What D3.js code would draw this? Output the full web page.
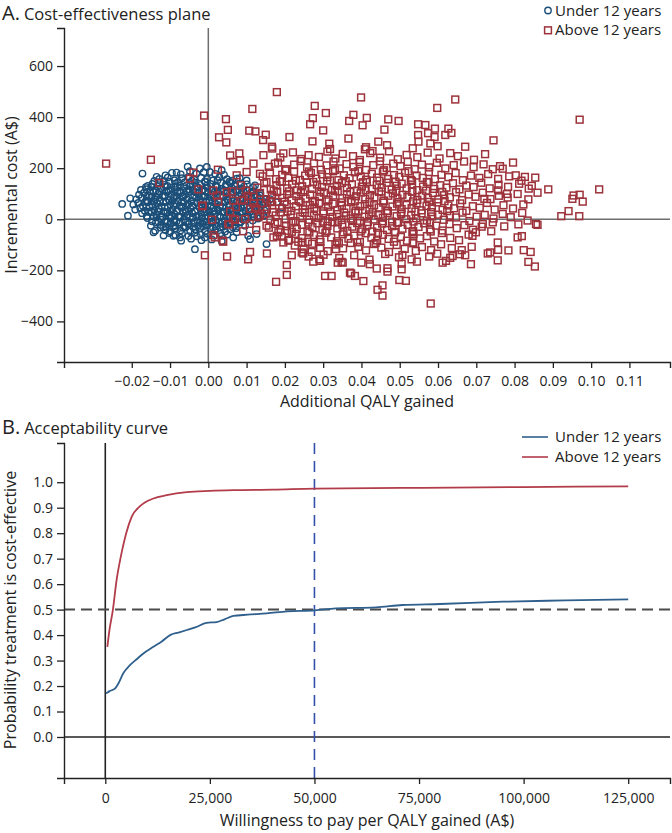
<!DOCTYPE html>
<html>
<head>
<meta charset="utf-8">
<script src="https://cdn.jsdelivr.net/npm/d3@7"></script>
<style>
  html, body { margin: 0; padding: 0; background: #fff; }
  svg { display: block; font-family: "Open Sans", "Noto Sans", sans-serif; }
</style>
</head>
<body>
<script>
// ---------------- DATA ----------------
const seriesNames = ["Under 12 years", "Above 12 years"];

const xTicksA = [-0.02,-0.01,0,0.01,0.02,0.03,0.04,0.05,0.06,0.07,0.08,0.09,0.10,0.11];
const yTicksA = [-400,-200,0,200,400,600];
const xTicksB = [0,25000,50000,75000,100000,125000];
const yTicksB = [0,0.1,0.2,0.3,0.4,0.5,0.6,0.7,0.8,0.9,1.0];

// [additional QALY, incremental cost A$]
const under12Points = [
[-0.0095,182],[-0.0072,176],[-0.0048,188],[-0.0031,179],[-0.0012,184],[0.0018,178],[0.0041,174],[-0.0112,172],
[-0.0128,158],[-0.0106,164],[-0.0088,153],[-0.0069,161],[-0.0052,166],[-0.0037,156],[-0.0019,163],[-0.0003,158],[0.0012,152],[0.0029,165],[0.0049,157],[0.0063,151],[-0.0141,150],[0.0082,161],
[-0.0146,138],[-0.0129,144],[-0.0114,135],[-0.0101,147],[-0.0086,139],[-0.0074,132],[-0.0061,145],[-0.0047,137],[-0.0035,143],[-0.0021,134],[-0.0008,146],[0.0006,138],[0.0019,131],[0.0033,144],[0.0046,136],[0.0058,142],[0.0071,133],[0.0086,140],[0.0101,137],[-0.0158,131],
[-0.0162,118],[-0.0149,126],[-0.0137,113],[-0.0124,122],[-0.0111,128],[-0.0099,115],[-0.0087,124],[-0.0076,111],[-0.0063,127],[-0.0051,118],[-0.0039,112],[-0.0027,125],[-0.0014,117],[-0.0002,123],[0.0011,114],[0.0023,126],[0.0036,119],[0.0048,111],[0.0061,124],[0.0074,116],[0.0088,121],[0.0102,113],[0.0117,125],[-0.0176,115],
[-0.0181,96],[-0.0168,104],[-0.0155,92],[-0.0143,107],[-0.0131,99],[-0.0119,93],[-0.0108,106],[-0.0096,98],[-0.0084,91],[-0.0072,103],[-0.0061,96],[-0.0049,108],[-0.0037,94],[-0.0025,101],[-0.0013,91],[-0.0001,105],[0.0012,97],[0.0024,109],[0.0036,93],[0.0049,102],[0.0061,95],[0.0073,107],[0.0086,99],[0.0098,92],[0.0111,104],[0.0123,96],[0.0136,101],
[-0.0188,78],[-0.0174,84],[-0.0161,73],[-0.0149,86],[-0.0138,79],[-0.0126,71],[-0.0114,88],[-0.0103,76],[-0.0091,83],[-0.0079,72],[-0.0068,87],[-0.0056,78],[-0.0044,71],[-0.0032,85],[-0.0021,77],[-0.0009,89],[0.0003,74],[0.0015,82],[0.0027,71],[0.0039,86],[0.0051,78],[0.0063,84],[0.0075,72],[0.0087,81],[0.0099,76],[0.0112,87],[0.0124,73],[0.0137,82],[0.0149,77],
[-0.0183,64],[-0.0171,52],[-0.0158,67],[-0.0146,56],[-0.0134,63],[-0.0122,51],[-0.0111,68],[-0.0099,57],[-0.0087,62],[-0.0075,53],[-0.0064,66],[-0.0052,59],[-0.0041,51],[-0.0029,64],[-0.0017,57],[-0.0005,68],[0.0007,53],[0.0019,61],[0.0031,55],[0.0043,67],[0.0056,58],[0.0068,51],[0.0080,63],[0.0092,56],[0.0105,68],[0.0117,54],[0.0129,61],[0.0142,57],[0.0155,64],
[-0.0178,44],[-0.0166,33],[-0.0153,47],[-0.0141,36],[-0.0129,42],[-0.0117,31],[-0.0106,46],[-0.0094,38],[-0.0082,33],[-0.0070,45],[-0.0059,36],[-0.0047,43],[-0.0035,32],[-0.0023,47],[-0.0011,39],[0.0001,34],[0.0013,44],[0.0025,37],[0.0037,48],[0.0049,33],[0.0061,41],[0.0073,36],[0.0085,45],[0.0097,32],[0.0109,42],[0.0121,37],[0.0134,46],[0.0147,34],
[-0.0173,24],[-0.0161,13],[-0.0148,27],[-0.0136,19],[-0.0124,11],[-0.0112,25],[-0.0101,16],[-0.0089,22],[-0.0077,12],[-0.0066,27],[-0.0054,18],[-0.0042,24],[-0.0030,13],[-0.0018,21],[-0.0006,28],[0.0006,15],[0.0018,23],[0.0030,12],[0.0042,26],[0.0054,17],[0.0066,22],[0.0078,11],[0.0090,25],[0.0103,16],[0.0115,21],[0.0128,13],[0.0141,24],
[-0.0159,5],[-0.0147,-8],[-0.0135,7],[-0.0123,-2],[-0.0111,-9],[-0.0099,4],[-0.0088,-5],[-0.0076,8],[-0.0064,-1],[-0.0053,-8],[-0.0041,6],[-0.0029,-4],[-0.0017,3],[-0.0005,-9],[0.0007,5],[0.0019,-3],[0.0031,8],[0.0043,-6],[0.0055,2],[0.0067,-8],[0.0079,5],[0.0091,-2],[0.0104,7],[0.0116,-5],[0.0130,3],
[-0.0150,-25],[-0.0137,-13],[-0.0124,-22],[-0.0112,-28],[-0.0099,-16],[-0.0087,-24],[-0.0075,-12],[-0.0063,-27],[-0.0051,-19],[-0.0039,-14],[-0.0027,-26],[-0.0015,-17],[-0.0003,-23],[0.0009,-12],[0.0021,-27],[0.0033,-18],[0.0045,-24],[0.0057,-15],[0.0069,-22],[0.0082,-13],[0.0096,-25],
[-0.0139,-45],[-0.0125,-33],[-0.0112,-42],[-0.0099,-48],[-0.0086,-36],[-0.0073,-44],[-0.0060,-32],[-0.0047,-47],[-0.0034,-39],[-0.0021,-34],[-0.0008,-46],[0.0005,-37],[0.0018,-43],[0.0031,-33],[0.0044,-48],[0.0057,-39],[0.0072,-35],
[-0.0117,-64],[-0.0102,-54],[-0.0086,-62],[-0.0069,-56],[-0.0052,-66],[-0.0036,-53],[-0.0019,-61],[-0.0002,-57],[0.0015,-64],[0.0032,-55],[0.0050,-60],
[-0.0071,-84],[-0.0045,-76],[-0.0018,-82],[0.0009,-79],[0.0035,-86],
[-0.0117,149],[-0.0079,146],[-0.0043,151],[-0.0009,148],[0.0024,153],[0.0055,147],
[-0.0133,129],[-0.0107,131],[-0.0081,127],[-0.0057,133],[-0.0031,128],[-0.0004,132],[0.0021,129],[0.0045,127],[0.0068,131],[0.0093,128],
[-0.0152,110],[-0.0128,108],[-0.0104,112],[-0.0081,107],[-0.0057,110],[-0.0033,106],[-0.0008,111],[0.0017,108],[0.0041,113],[0.0066,106],[0.0092,110],[0.0115,108],
[-0.0161,89],[-0.0137,87],[-0.0113,92],[-0.0089,88],[-0.0065,91],[-0.0041,86],[-0.0017,90],[0.0007,87],[0.0031,92],[0.0055,88],[0.0079,91],[0.0104,86],[0.0128,89],
[-0.0165,69],[-0.0141,71],[-0.0117,67],[-0.0093,72],[-0.0069,68],[-0.0045,70],[-0.0021,66],[0.0003,71],[0.0027,68],[0.0051,72],[0.0075,67],[0.0099,70],[0.0123,68],
[-0.0162,49],[-0.0138,51],[-0.0114,48],[-0.0090,52],[-0.0066,49],[-0.0042,53],[-0.0018,48],[0.0006,51],[0.0030,47],[0.0054,52],[0.0078,49],[0.0102,51],[0.0126,48],
[-0.0155,29],[-0.0131,31],[-0.0107,28],[-0.0083,32],[-0.0059,29],[-0.0035,31],[-0.0011,27],[0.0013,32],[0.0037,29],[0.0061,31],[0.0085,28],[0.0109,30],
[-0.0144,11],[-0.0120,9],[-0.0096,12],[-0.0072,10],[-0.0048,8],[-0.0024,12],[0.0000,9],[0.0024,11],[0.0048,8],[0.0072,12],[0.0096,10],[0.0120,9],
[-0.0131,-9],[-0.0107,-12],[-0.0083,-8],[-0.0059,-11],[-0.0035,-13],[-0.0011,-9],[0.0013,-12],[0.0037,-8],[0.0061,-11],[0.0085,-10],
[-0.0118,-31],[-0.0092,-29],[-0.0066,-33],[-0.0040,-30],[-0.0014,-28],[0.0012,-32],[0.0038,-29],[0.0064,-31],
[-0.0225,60],[-0.0204,82],[-0.0210,14],[-0.0196,58],[-0.0191,38],[-0.0172,179],[-0.0163,126],[-0.0143,-51],[-0.0091,-65],[-0.0074,-71],[-0.0035,-117],[-0.0030,-67],[-0.0009,-71],[0.0035,-65],[0.0065,-71],[0.0074,-51],[0.0104,-65],[0.0109,-78],[0.0126,-58],[0.0152,-97],
[-0.0135,166],[-0.0083,183],[-0.0054,206],[-0.0022,199],[-0.0004,205],[0.0035,192],[0.0004,185],[0.0074,159],[0.0100,152],[0.0122,133],[0.0135,93],[0.0148,67],[0.0161,79],[0.0179,67],[0.0192,47],[0.0144,14]
];

const above12Points = [
[-0.0267,218],[-0.0150,233],[-0.0011,406],[0.0046,392],[0.0051,350],[0.0028,321],[0.0047,301],[0.0115,432],[0.0107,347],[0.0123,344],[0.0150,331],[0.0143,310],[0.0179,498],[0.0166,284],[0.0212,322],[0.0278,444],[0.0273,396],[0.0266,372],[0.0307,416],[0.0300,348],[0.0272,305],[0.0316,296],[0.0057,250],[0.0081,258],[0.0064,225],[0.0083,231],
[0.0399,477],[0.0645,469],[0.0598,436],[0.0379,409],[0.0368,385],[0.0414,397],[0.0403,368],[0.0470,391],[0.0497,385],[0.0460,351],[0.0366,316],[0.0548,372],[0.0567,369],[0.0592,355],[0.0627,355],[0.0548,330],[0.0574,337],[0.0591,322],[0.0619,330],[0.0635,338],[0.0549,304],[0.0580,297],[0.0599,286],[0.0671,284],[0.0632,259],[0.0745,309],[0.0970,390],[0.0444,304],[0.0467,290],[0.0412,282],[0.0429,267],[0.0743,196],[0.0769,198],[0.0803,172],[0.0827,166],[0.0854,163],[0.0837,120],[0.0860,104],[0.0888,117],[0.0954,93],[0.0970,96],[0.1021,117],[0.0721,80],[0.0757,113],[0.0780,99],
[0.0951,80],[0.0978,69],[0.0922,12],[0.0941,32],[0.0969,12],[0.0856,-19],[0.0860,-22],[0.0834,-5],[0.0810,-20],[0.0773,-28],[0.0808,-71],[0.0819,-66],[0.0784,-122],[0.0824,-121],[0.0842,-128],[0.0836,-167],[0.0853,-185],[0.0756,-91],[0.0757,-120],[0.0756,-161],[0.0730,-134],[0.0736,-130],[0.0688,-108],[0.0686,-176],[0.0581,-330],[0.0455,-259],[0.0442,-276],[0.0455,-299],[0.0499,-238],[0.0516,-241],[0.0405,-242],[0.0383,-222],[0.0373,-212],[0.0468,-192],[0.0468,-205],[0.0505,-196],[0.0505,-174],[0.0545,-166],[0.0542,-124],[0.0577,-146],[0.0612,-170],[0.0621,-163],[0.0638,-144],[0.0662,-121],[0.0671,-141],[0.0351,-170],[0.0338,-170],[0.0333,-117],[0.0690,-65],[0.0699,-51],[0.0717,-19],[0.0743,-12],[0.0769,21],
[-0.0009,-141],[0.0049,-146],[0.0104,-157],[0.0109,-128],[0.0153,-134],[0.0177,-245],[0.0205,-218],[0.0205,-179],[0.0218,-141],[0.0235,-88],[0.0248,-134],[0.0270,-128],[0.0274,-166],[0.0290,-157],[0.0305,-222],[0.0322,-222],[-0.0015,54],[0.0010,-2],[0.0026,69],[0.0052,-19],[0.0065,1],[0.0096,1],[0.0091,-47],[0.0109,41],[0.0087,73],[0.0013,-62],[0.0038,-84],[0.0183,-51],[0.0205,-45],[0.0209,-84],[0.0170,-71],
[-0.0128,142],[-0.0026,117],[-0.0016,51],[0.0017,-71],[0.0039,-88],[-0.0048,159],[-0.0039,183],[0.0025,194],[0.0013,113],[0.0022,93],[0.0048,106],[0.0061,109],[0.0065,73],[0.0093,77],[0.0057,30],[0.0070,-2],[0.0055,-20],
[0.0074,172],[0.0100,185],[0.0118,218],[0.0144,251],[0.0167,277],[0.0196,258],[0.0174,218],[0.0135,178],[0.0152,146],[0.0179,106],[0.0165,67],[0.0126,41],[0.0135,14],[0.0152,-25],[0.0179,-65],[0.0196,-91],
[0.0370,-209],[0.0422,-176],[0.0440,-193],[0.0348,-167],[0.0400,-170],[0.0507,-140],[0.0657,-137],[0.0292,-163],[0.0244,-130],
[0.0188,242],[0.0221,262],[0.0243,236],[0.0262,251],[0.0289,244],[0.0311,265],[0.0332,238],[0.0351,256],[0.0378,247],[0.0396,232],[0.0423,259],[0.0449,241],[0.0472,266],[0.0495,235],[0.0518,252],[0.0546,243],[0.0573,261],[0.0604,238],[0.0652,247],[0.0694,233],[0.0723,255],[0.0318,275],[0.0409,274],[0.0534,278],
[0.0158,205],[0.0182,222],[0.0203,196],[0.0224,214],[0.0241,228],[0.0258,203],[0.0276,219],[0.0294,194],[0.0309,211],[0.0327,226],[0.0343,199],[0.0361,216],[0.0379,205],[0.0395,224],[0.0412,193],[0.0431,212],[0.0448,227],[0.0466,201],[0.0483,218],[0.0502,208],[0.0521,225],[0.0539,196],[0.0558,214],[0.0577,203],[0.0597,221],[0.0619,199],[0.0641,212],[0.0668,226],[0.0693,204],[0.0719,215],[0.0762,208],[0.0796,222],
[0.0142,168],[0.0161,183],[0.0177,157],[0.0193,174],[0.0209,162],[0.0224,186],[0.0239,154],[0.0253,171],[0.0268,181],[0.0282,159],[0.0297,176],[0.0311,165],[0.0326,188],[0.0340,153],[0.0354,172],[0.0369,161],[0.0383,184],[0.0398,167],[0.0412,155],[0.0427,178],[0.0441,163],[0.0456,187],[0.0470,158],[0.0485,173],[0.0499,166],[0.0514,182],[0.0529,154],[0.0544,171],[0.0560,162],[0.0576,185],[0.0592,157],[0.0609,174],[0.0627,165],[0.0646,181],[0.0665,153],[0.0686,171],[0.0708,162],[0.0731,177],[0.0757,158],[0.0786,168],[0.0818,151],
[0.0128,124],[0.0146,141],[0.0163,117],[0.0178,133],[0.0192,147],[0.0206,121],[0.0219,138],[0.0232,113],[0.0245,129],[0.0258,144],[0.0271,119],[0.0284,136],[0.0297,126],[0.0310,148],[0.0323,115],[0.0336,131],[0.0349,142],[0.0362,122],[0.0375,137],[0.0388,112],[0.0401,128],[0.0414,146],[0.0427,119],[0.0440,134],[0.0453,124],[0.0466,143],[0.0479,116],[0.0492,131],[0.0505,139],[0.0518,121],[0.0532,136],[0.0546,114],[0.0561,128],[0.0575,145],[0.0590,119],[0.0606,133],[0.0622,124],[0.0639,141],[0.0656,117],[0.0674,132],[0.0693,126],[0.0713,143],[0.0735,121],[0.0758,135],[0.0783,127],[0.0812,139],[0.0845,131],
[0.0118,88],[0.0135,103],[0.0151,79],[0.0166,96],[0.0180,108],[0.0193,84],[0.0206,99],[0.0218,74],[0.0230,91],[0.0242,106],[0.0254,81],[0.0266,97],[0.0278,72],[0.0290,88],[0.0302,104],[0.0314,77],[0.0326,93],[0.0338,109],[0.0350,83],[0.0362,98],[0.0374,74],[0.0386,90],[0.0398,105],[0.0410,79],[0.0422,95],[0.0434,86],[0.0446,107],[0.0458,73],[0.0470,92],[0.0482,101],[0.0494,81],[0.0507,96],[0.0520,87],[0.0533,108],[0.0546,76],[0.0559,93],[0.0573,84],[0.0587,103],[0.0601,78],[0.0616,94],[0.0631,86],[0.0647,106],[0.0663,75],[0.0680,97],[0.0698,88],[0.0717,104],[0.0737,79],[0.0759,92],[0.0782,85],[0.0808,99],[0.0836,78],
[0.0122,47],[0.0138,63],[0.0153,38],[0.0167,55],[0.0180,68],[0.0193,42],[0.0205,59],[0.0217,33],[0.0229,51],[0.0241,66],[0.0253,39],[0.0265,56],[0.0277,45],[0.0289,64],[0.0301,31],[0.0313,49],[0.0325,61],[0.0337,36],[0.0349,53],[0.0361,42],[0.0373,67],[0.0385,34],[0.0397,51],[0.0409,59],[0.0421,38],[0.0433,55],[0.0445,46],[0.0457,65],[0.0469,32],[0.0481,50],[0.0493,61],[0.0505,40],[0.0518,56],[0.0531,44],[0.0544,63],[0.0557,35],[0.0570,52],[0.0584,47],[0.0598,66],[0.0612,37],[0.0627,54],[0.0642,43],[0.0658,62],[0.0674,33],[0.0691,51],[0.0709,45],[0.0728,64],[0.0748,38],[0.0771,55],[0.0796,42],[0.0823,58],
[0.0131,8],[0.0147,22],[0.0162,-4],[0.0176,15],[0.0189,27],[0.0202,2],[0.0215,18],[0.0228,-7],[0.0240,11],[0.0252,25],[0.0264,-2],[0.0276,14],[0.0288,5],[0.0300,23],[0.0312,-8],[0.0324,9],[0.0336,20],[0.0348,-3],[0.0360,13],[0.0372,3],[0.0384,26],[0.0396,-6],[0.0408,10],[0.0420,19],[0.0432,-1],[0.0444,16],[0.0456,6],[0.0468,24],[0.0480,-9],[0.0492,12],[0.0504,21],[0.0517,0],[0.0530,15],[0.0543,4],[0.0557,23],[0.0571,-5],[0.0585,11],[0.0600,18],[0.0615,-2],[0.0631,14],[0.0647,7],[0.0664,26],[0.0682,-7],[0.0701,10],[0.0722,17],[0.0745,3],[0.0790,8],[0.0820,25],
[0.0158,-33],[0.0174,-18],[0.0189,-42],[0.0203,-27],[0.0217,-13],[0.0231,-38],[0.0245,-22],[0.0259,-47],[0.0272,-31],[0.0285,-16],[0.0298,-41],[0.0311,-26],[0.0324,-12],[0.0337,-36],[0.0350,-21],[0.0363,-45],[0.0376,-29],[0.0389,-15],[0.0402,-39],[0.0415,-24],[0.0428,-48],[0.0441,-33],[0.0454,-17],[0.0467,-42],[0.0480,-27],[0.0493,-13],[0.0507,-37],[0.0521,-22],[0.0535,-46],[0.0549,-30],[0.0564,-16],[0.0579,-40],[0.0595,-25],[0.0612,-44],[0.0630,-19],[0.0649,-35],[0.0669,-23],[0.0691,-41],[0.0714,-29],[0.0739,-47],
[0.0192,-68],[0.0211,-81],[0.0228,-57],[0.0244,-74],[0.0260,-88],[0.0276,-62],[0.0291,-79],[0.0306,-53],[0.0321,-71],[0.0336,-86],[0.0351,-59],[0.0366,-76],[0.0381,-64],[0.0396,-89],[0.0411,-55],[0.0426,-72],[0.0441,-83],[0.0456,-61],[0.0471,-77],[0.0487,-52],[0.0503,-69],[0.0519,-84],[0.0536,-58],[0.0553,-75],[0.0571,-66],[0.0590,-87],[0.0610,-54],[0.0632,-73],[0.0655,-82],[0.0680,-60],
[0.0226,-103],[0.0249,-117],[0.0271,-96],[0.0292,-112],[0.0312,-125],[0.0332,-99],[0.0352,-114],[0.0372,-93],[0.0392,-108],[0.0412,-122],[0.0432,-97],[0.0452,-111],[0.0472,-128],[0.0492,-101],[0.0513,-116],[0.0535,-94],[0.0558,-109],[0.0582,-121],[0.0608,-98],[0.0636,-113],
[0.0262,-146],[0.0301,-139],[0.0342,-152],[0.0381,-141],[0.0421,-158],[0.0462,-136],[0.0498,-149],[0.0531,-157],[0.0598,-135],[0.0632,-151],
[0.0201,191],[0.0263,187],[0.0331,193],[0.0392,189],[0.0459,192],[0.0523,188],
[0.0187,148],[0.0229,151],[0.0274,146],[0.0318,152],[0.0359,149],[0.0404,145],[0.0447,151],[0.0489,147],[0.0532,150],[0.0571,146],
[0.0171,112],[0.0211,109],[0.0252,113],[0.0293,108],[0.0331,111],[0.0371,107],[0.0411,113],[0.0452,109],[0.0491,111],[0.0532,108],[0.0569,112],[0.0611,107],
[0.0162,71],[0.0199,68],[0.0237,72],[0.0273,67],[0.0309,70],[0.0347,66],[0.0383,71],[0.0421,68],[0.0459,72],[0.0497,67],[0.0535,70],[0.0577,68],[0.0617,71],
[0.0168,28],[0.0207,31],[0.0246,27],[0.0283,32],[0.0319,29],[0.0355,26],[0.0392,31],[0.0429,28],[0.0466,33],[0.0503,27],[0.0541,30],[0.0582,28],[0.0624,32],
[0.0181,-11],[0.0222,-8],[0.0261,-13],[0.0299,-9],[0.0338,-12],[0.0377,-7],[0.0417,-11],[0.0456,-8],[0.0495,-13],[0.0536,-9],[0.0579,-12],
[0.0218,-49],[0.0264,-52],[0.0309,-47],[0.0353,-51],[0.0398,-48],[0.0443,-53],[0.0488,-49],[0.0533,-51],[0.0581,-48],
[0.0246,-92],[0.0293,-89],[0.0341,-94],[0.0389,-90],[0.0437,-93],[0.0485,-88],[0.0534,-91],
[0.0098,112],[0.0085,133],[0.0104,92],[0.0072,48],[0.0118,62],[0.0108,-18],[0.0125,-42]
];

// [willingness to pay A$, probability cost-effective]
const ceacUnder12 = [[200,0.171],[1000,0.180],[2300,0.190],[3200,0.212],[4300,0.250],[5900,0.282],[7500,0.305],[9100,0.328],[11500,0.354],[13500,0.375],[15500,0.400],[17500,0.410],[19500,0.420],[21500,0.430],[24200,0.448],[26600,0.451],[28500,0.462],[30600,0.475],[34000,0.480],[38600,0.485],[43400,0.493],[50100,0.497],[55100,0.505],[64700,0.509],[71000,0.518],[80000,0.522],[95000,0.531],[110000,0.536],[125000,0.540]];
const ceacAbove12 = [[500,0.354],[1000,0.420],[1800,0.497],[2700,0.616],[3700,0.707],[5000,0.800],[6300,0.864],[8300,0.906],[11500,0.936],[14700,0.949],[19500,0.961],[25000,0.966],[30600,0.969],[40000,0.971],[50000,0.975],[75000,0.978],[100000,0.981],[125000,0.984]];

const wtpThreshold = 50000;
const probThreshold = 0.5;

// ---------------- STYLE ----------------
const blueMark = "#1b4e78", redMark = "#9d323b";
const blueLine = "#2f5f8c", redLine = "#b23c49";
const axisColor = "#222";

const svg = d3.select("body").append("svg").attr("width", 672).attr("height", 833);

function styleAxis(g) {
  g.selectAll("path.domain").attr("stroke", axisColor).attr("stroke-width", 1.4);
  g.selectAll(".tick line").attr("stroke", axisColor).attr("stroke-width", 1.3);
  g.selectAll(".tick text").attr("fill", "#222").style("font-size", "14px").style("font-family", '"Open Sans", sans-serif');
}

// ---------------- PANEL A ----------------
const xA = d3.scaleLinear().domain([-0.0377, 0.1206]).range([64, 670]);
const yA = d3.scaleLinear().domain([-559, 749]).range([362, 28]);

const gA = svg.append("g");
gA.append("line").attr("x1", xA(0)).attr("x2", xA(0)).attr("y1", yA.range()[1]).attr("y2", yA.range()[0])
  .attr("stroke", "#6f6f6f").attr("stroke-width", 1.5);
gA.append("line").attr("x1", xA.range()[0]).attr("x2", xA.range()[1]).attr("y1", yA(0)).attr("y2", yA(0))
  .attr("stroke", "#6f6f6f").attr("stroke-width", 1.5);

gA.append("g").selectAll("circle").data(under12Points).join("circle")
  .attr("cx", d => xA(d[0])).attr("cy", d => yA(d[1])).attr("r", 3.2)
  .attr("fill", "none").attr("stroke", blueMark).attr("stroke-width", 1.4);

gA.append("g").selectAll("rect").data(above12Points).join("rect")
  .attr("x", d => xA(d[0]) - 3.4).attr("y", d => yA(d[1]) - 3.4).attr("width", 6.8).attr("height", 6.8)
  .attr("fill", "none").attr("stroke", redMark).attr("stroke-width", 1.5);

const axAx = gA.append("g").attr("transform", `translate(0,362)`)
  .call(d3.axisBottom(xA).tickValues(xTicksA).tickFormat(d3.format(".2f")).tickSizeOuter(0).tickSize(6).tickPadding(8));
styleAxis(axAx);
const axAy = gA.append("g").attr("transform", `translate(64,0)`)
  .call(d3.axisLeft(yA).tickValues(yTicksA).tickFormat(d3.format("d")).tickSizeOuter(0).tickSize(7).tickPadding(4));
styleAxis(axAy);

gA.append("text").attr("x", 367).attr("y", 407).attr("text-anchor", "middle")
  .style("font-size", "16px").attr("fill", "#222").text("Additional QALY gained");
gA.append("text").attr("transform", `translate(17,195) rotate(-90)`).attr("text-anchor", "middle")
  .style("font-size", "16px").attr("fill", "#222").text("Incremental cost (A$)");

const tA = gA.append("text").attr("x", 2).attr("y", 19.5).attr("fill", "#222");
tA.append("tspan").style("font-size", "20px").text("A.");
tA.append("tspan").attr("dx", 4).style("font-size", "16.5px").text("Cost-effectiveness plane");

// legend A
const legA = gA.append("g");
legA.append("circle").attr("cx", 548).attr("cy", 10.5).attr("r", 3.2).attr("fill", "none").attr("stroke", blueMark).attr("stroke-width", 1.4);
legA.append("rect").attr("x", 548 - 3.4).attr("y", 30.3 - 3.4).attr("width", 6.8).attr("height", 6.8).attr("fill", "none").attr("stroke", redMark).attr("stroke-width", 1.5);
legA.append("text").attr("x", 555).attr("y", 15.5).style("font-size", "15px").attr("fill", "#222").text(seriesNames[0]);
legA.append("text").attr("x", 555).attr("y", 35.3).style("font-size", "15px").attr("fill", "#222").text(seriesNames[1]);

// ---------------- PANEL B ----------------
const xB = d3.scaleLinear().domain([-9870, 134990]).range([64, 670]);
const yB = d3.scaleLinear().domain([-0.161, 1.154]).range([778, 443]);

const gB = svg.append("g");
gB.append("line").attr("x1", xB(0)).attr("x2", xB(0)).attr("y1", 443).attr("y2", 778)
  .attr("stroke", "#222").attr("stroke-width", 1.6);
gB.append("line").attr("x1", 64).attr("x2", 670).attr("y1", yB(0)).attr("y2", yB(0))
  .attr("stroke", "#222").attr("stroke-width", 1.6);
gB.append("line").attr("x1", 64).attr("x2", 670).attr("y1", yB(probThreshold)).attr("y2", yB(probThreshold))
  .attr("stroke", "#4a4a4a").attr("stroke-width", 2).attr("stroke-dasharray", "11,6");
gB.append("line").attr("x1", xB(wtpThreshold)).attr("x2", xB(wtpThreshold)).attr("y1", 443).attr("y2", 778)
  .attr("stroke", "#3550a8").attr("stroke-width", 1.6).attr("stroke-dasharray", "11,7");

const line = d3.line().x(d => xB(d[0])).y(d => yB(d[1])).curve(d3.curveMonotoneX);
gB.append("path").datum(ceacUnder12).attr("d", line).attr("fill", "none").attr("stroke", blueLine).attr("stroke-width", 1.8);
gB.append("path").datum(ceacAbove12).attr("d", line).attr("fill", "none").attr("stroke", redLine).attr("stroke-width", 1.8);

const axBx = gB.append("g").attr("transform", `translate(0,778)`)
  .call(d3.axisBottom(xB).tickValues(xTicksB).tickFormat(d3.format(",")).tickSizeOuter(0).tickSize(6).tickPadding(9));
styleAxis(axBx);
const axBy = gB.append("g").attr("transform", `translate(64,0)`)
  .call(d3.axisLeft(yB).tickValues(yTicksB).tickFormat(d3.format(".1f")).tickSizeOuter(0).tickSize(7).tickPadding(4));
styleAxis(axBy);

gB.append("text").attr("x", 367).attr("y", 826).attr("text-anchor", "middle")
  .style("font-size", "16px").attr("fill", "#222").text("Willingness to pay per QALY gained (A$)");
gB.append("text").attr("transform", `translate(16,610) rotate(-90)`).attr("text-anchor", "middle")
  .style("font-size", "16px").attr("fill", "#222").text("Probability treatment is cost-effective");

const tB = gB.append("text").attr("x", 2).attr("y", 434).attr("fill", "#222");
tB.append("tspan").style("font-size", "20px").text("B.");
tB.append("tspan").attr("dx", 4).style("font-size", "16.5px").text("Acceptability curve");

const legB = gB.append("g");
legB.append("line").attr("x1", 522).attr("x2", 548).attr("y1", 437).attr("y2", 437).attr("stroke", blueLine).attr("stroke-width", 1.6);
legB.append("line").attr("x1", 522).attr("x2", 548).attr("y1", 457).attr("y2", 457).attr("stroke", redLine).attr("stroke-width", 1.6);
legB.append("text").attr("x", 555).attr("y", 442).style("font-size", "15px").attr("fill", "#222").text(seriesNames[0]);
legB.append("text").attr("x", 555).attr("y", 462).style("font-size", "15px").attr("fill", "#222").text(seriesNames[1]);
</script>
</body>
</html>
